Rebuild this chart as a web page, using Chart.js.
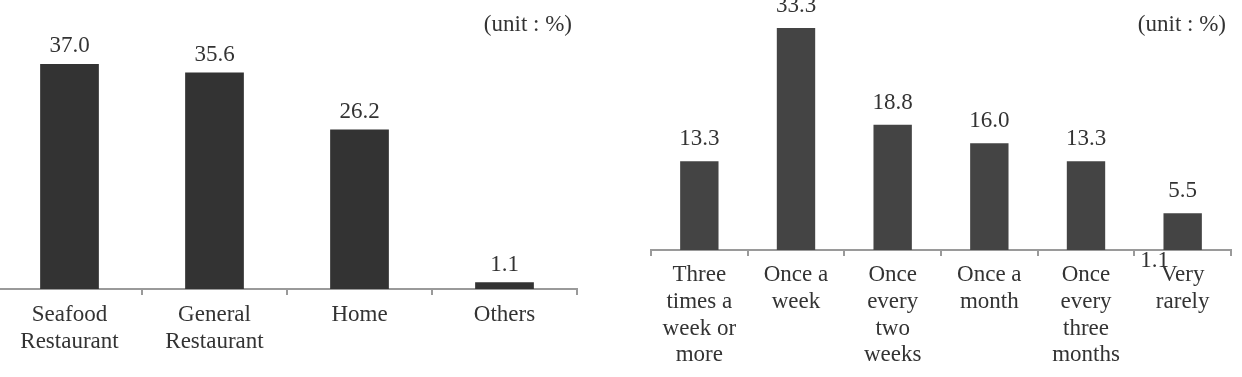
<!DOCTYPE html>
<html>
<head>
<meta charset="utf-8">
<script src="https://cdn.jsdelivr.net/npm/chart.js@4.4.1/dist/chart.umd.min.js"></script>
<style>
  html, body { margin:0; padding:0; background:#fff; width:1242px; height:377px; overflow:hidden; }
  canvas { position:absolute; top:0; }
  #place-chart { left:-4px; }
  #freq-chart { left:620px; }
</style>
</head>
<body>
<canvas id="place-chart" width="600" height="377"></canvas>
<canvas id="freq-chart" width="622" height="377"></canvas>
<script>
// Left: where seafood is eaten
const placeLabels = [["Seafood", "Restaurant"], ["General", "Restaurant"], "Home", "Others"];
const placeValues = [37.0, 35.6, 26.2, 1.1];

// Right: how often
const freqLabels = [
  ["Three", "times a", "week or", "more"],
  ["Once a", "week"],
  ["Once", "every", "two", "weeks"],
  ["Once a", "month"],
  ["Once", "every", "three", "months"],
  ["Very", "rarely"]
];
const freqValues = [13.3, 33.3, 18.8, 16.0, 13.3, 5.5];
const freqStrayLabel = "1.1"; // stray label left under "Very rarely" in the source

const unitText = "(unit : %)";

const TEXT = "#333";
const AXIS = "#9a9a9a";
const FAMILY = '"Liberation Serif", "Times New Roman", serif';

function labelsPlugin(offset, extra) {
  return {
    id: "valueLabels",
    afterDraw(chart) {
      const ctx = chart.ctx;
      const vals = chart.data.datasets[0].data;
      ctx.save();
      ctx.font = "23px " + FAMILY;
      ctx.fillStyle = TEXT;
      ctx.textAlign = "center";
      ctx.textBaseline = "middle";
      chart.getDatasetMeta(0).data.forEach((bar, i) => {
        ctx.fillText(vals[i].toFixed(1), bar.x, bar.y - offset);
      });
      ctx.textAlign = "right";
      ctx.fillText(unitText, chart.chartArea.right - 5, 24.5);
      if (extra) extra(chart, ctx);
      ctx.restore();
    }
  };
}

function makeChart(id, labels, values, opts) {
  return new Chart(document.getElementById(id), {
    type: "bar",
    data: {
      labels: labels,
      datasets: [{
        data: values,
        backgroundColor: opts.color,
        categoryPercentage: 1,
        barPercentage: opts.barPct
      }]
    },
    options: {
      responsive: false,
      animation: false,
      devicePixelRatio: 1,
      layout: { padding: { left: opts.padLeft, right: opts.padRight, top: 0, bottom: 0 } },
      plugins: { legend: { display: false }, tooltip: { enabled: false } },
      scales: {
        x: {
          offset: true,
          grid: {
            offset: true,
            drawOnChartArea: false,
            drawTicks: true,
            tickLength: 6,
            color: AXIS,
            lineWidth: 2
          },
          border: { display: true, color: AXIS, width: 2 },
          ticks: {
            font: { family: FAMILY, size: 23, lineHeight: 1.16 },
            color: TEXT,
            padding: opts.tickPad,
            maxRotation: 0,
            autoSkip: false
          },
          afterFit(scale) { scale.height = opts.axisHeight; }
        },
        y: { display: false, min: 0, max: opts.yMax }
      }
    },
    plugins: [labelsPlugin(opts.labelOffset, opts.extra)]
  });
}

makeChart("place-chart", placeLabels, placeValues, {
  color: "#333333",
  barPct: 0.405,
  padLeft: 1,
  padRight: 19,
  axisHeight: 88,
  tickPad: 7,
  yMax: 47.5,
  labelOffset: 17.5
});

makeChart("freq-chart", freqLabels, freqValues, {
  color: "#444444",
  barPct: 0.397,
  padLeft: 31,
  padRight: 11,
  axisHeight: 127,
  tickPad: 6,
  yMax: 37.5,
  labelOffset: 22,
  extra(chart, ctx) {
    const x = chart.scales.x.getPixelForValue(5) - 28;
    const y = chart.scales.y.getPixelForValue(0) + 11;
    ctx.textAlign = "center";
    ctx.fillText(freqStrayLabel, x, y);
  }
});
</script>
</body>
</html>
